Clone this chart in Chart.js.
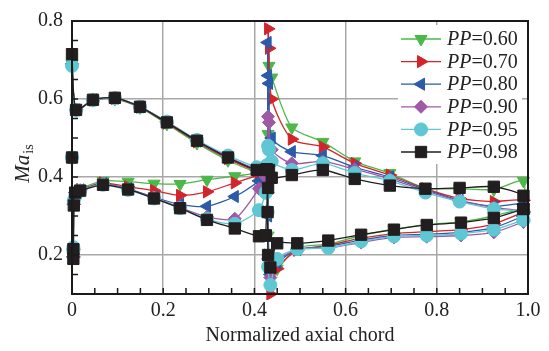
<!DOCTYPE html>
<html>
<head>
<meta charset="utf-8">
<script src="https://cdn.jsdelivr.net/npm/chart.js@4.4.1/dist/chart.umd.min.js"></script>
<style>
  html, body { margin: 0; padding: 0; background: #fff; }
</style>
</head>
<body>
<canvas id="mach-chart" width="549" height="351"></canvas>
<script>
// series names (pressure ratio PP)
const ppLabels = ['0.60', '0.70', '0.80', '0.90', '0.95', '0.98'];

// axis ticks
const xTickValues = [0, 0.2, 0.4, 0.6, 0.8, 1.0];
const xTickLabels = ['0', '0.2', '0.4', '0.6', '0.8', '1.0'];
const yTickValues = [0.2, 0.4, 0.6, 0.8];
const yTickLabels = ['0.2', '0.4', '0.6', '0.8'];

// front blade, pressure side: trailing edge -> leading edge
const frontPsX = [0.425, 0.41, 0.357, 0.296, 0.237, 0.18, 0.123, 0.068, 0.018, 0.007, 0.004, 0.003, 0.003];
const frontPsY = [
  [0.41, 0.41, 0.402, 0.393, 0.382, 0.383, 0.388, 0.39, 0.37, 0.362, 0.33, 0.215, 0.195],
  [0.41, 0.405, 0.385, 0.362, 0.353, 0.365, 0.375, 0.385, 0.368, 0.36, 0.33, 0.215, 0.195],
  [0.41, 0.39, 0.35, 0.325, 0.33, 0.348, 0.37, 0.383, 0.367, 0.36, 0.33, 0.215, 0.195],
  [0.40, 0.37, 0.293, 0.298, 0.322, 0.347, 0.368, 0.382, 0.366, 0.36, 0.33, 0.215, 0.195],
  [0.36, 0.315, 0.28, 0.292, 0.32, 0.345, 0.367, 0.38, 0.365, 0.35, 0.34, 0.22, 0.21],
  [0.25, 0.248, 0.268, 0.29, 0.32, 0.345, 0.368, 0.38, 0.365, 0.36, 0.327, 0.215, 0.19]
];

// front blade, suction side: leading edge -> trailing edge
const frontSsX = [0, 0, 0.009, 0.046, 0.094, 0.149, 0.208, 0.274, 0.342, 0.405, 0.427];
const frontSsY = [
  [0.45, 0.69, 0.571, 0.597, 0.6, 0.578, 0.536, 0.487, 0.443, 0.412, 0.41],
  [0.45, 0.69, 0.572, 0.597, 0.601, 0.579, 0.538, 0.49, 0.447, 0.415, 0.412],
  [0.45, 0.69, 0.572, 0.598, 0.602, 0.58, 0.541, 0.492, 0.45, 0.418, 0.415],
  [0.45, 0.69, 0.572, 0.598, 0.603, 0.58, 0.542, 0.494, 0.452, 0.42, 0.42],
  [0.45, 0.685, 0.572, 0.597, 0.602, 0.58, 0.542, 0.495, 0.455, 0.425, 0.43],
  [0.45, 0.715, 0.572, 0.598, 0.603, 0.58, 0.54, 0.493, 0.45, 0.418, 0.42]
];

// rear blade, pressure side: trailing edge -> leading edge
const rearPsX = [0.99, 0.925, 0.853, 0.778, 0.706, 0.634, 0.562, 0.494, 0.45];
const rearPsY = [
  [0.32, 0.30, 0.285, 0.278, 0.266, 0.25, 0.228, 0.218, 0.165],
  [0.31, 0.28, 0.265, 0.26, 0.255, 0.243, 0.225, 0.212, 0.165],
  [0.30, 0.27, 0.258, 0.253, 0.25, 0.238, 0.222, 0.214, 0.18],
  [0.285, 0.258, 0.25, 0.247, 0.245, 0.232, 0.218, 0.214, 0.185],
  [0.29, 0.265, 0.255, 0.25, 0.248, 0.235, 0.218, 0.215, 0.19],
  [0.318, 0.295, 0.283, 0.277, 0.265, 0.252, 0.237, 0.23, 0.23]
];

// rear blade, leading edge region (shock)
const rearLeX = [0.435, 0.43, 0.429, 0.43, 0.432, 0.438];
const rearLeY = [
  [0.16, 0.25, 0.40, 0.51, 0.685, 0.655],
  [0.10, 0.20, 0.40, 0.78, 0.73, 0.60],
  [0.15, 0.30, 0.745, 0.66, 0.64, 0.50],
  [0.142, 0.19, 0.36, 0.555, 0.54, 0.47],
  [0.123, 0.17, 0.31, 0.48, 0.47, 0.44],
  [0.168, 0.20, 0.31, 0.372, 0.418, 0.398]
];

// rear blade, suction side: leading edge -> trailing edge
const rearSsX = [0.482, 0.55, 0.62, 0.697, 0.775, 0.85, 0.925, 0.99];
const rearSsY = [
  [0.527, 0.49, 0.44, 0.41, 0.372, 0.37, 0.368, 0.39],
  [0.497, 0.477, 0.435, 0.405, 0.37, 0.345, 0.337, 0.34],
  [0.465, 0.455, 0.425, 0.40, 0.368, 0.34, 0.325, 0.33],
  [0.435, 0.44, 0.42, 0.395, 0.365, 0.338, 0.322, 0.31],
  [0.418, 0.435, 0.41, 0.39, 0.36, 0.337, 0.318, 0.31],
  [0.405, 0.418, 0.395, 0.378, 0.37, 0.372, 0.375, 0.352]
];

// styles
const colors = ['#4cb848', '#d3242b', '#2b5aa8', '#9f59a6', '#5fc6d3', '#221e1f'];
const markers = ['triangle', 'triangle', 'triangle', 'rectRot', 'circle', 'rect'];
const rotations = [180, 90, -90, 0, 0, 0];
const radii = [7, 7, 7, 6.5, 6.5, 8];
const serif = 'Liberation Serif, Times New Roman, serif';

const pts = (xs, ys) => xs.map((x, i) => ({ x: x, y: ys[i] }));
const closeLoop = (arr) => arr.concat([arr[0]]);

function makeDataset(i, data, label) {
  return {
    label: label,
    data: data,
    showLine: true,
    borderColor: colors[i],
    backgroundColor: colors[i],
    borderWidth: 1.3,
    pointStyle: markers[i],
    pointRotation: rotations[i],
    pointRadius: radii[i],
    pointBorderWidth: 1,
    pointBorderColor: colors[i],
    pointBackgroundColor: colors[i],
    tension: 0.25,
    order: 5 - i,
    clip: { left: 12, right: 12, top: 2, bottom: 6 }
  };
}

const datasets = [];
ppLabels.forEach((pp, i) => {
  const front = closeLoop(pts(frontPsX, frontPsY[i]).concat(pts(frontSsX, frontSsY[i])));
  datasets.push(makeDataset(i, front, 'PP=' + pp));
});
ppLabels.forEach((pp, i) => {
  const rear = closeLoop(pts(rearPsX, rearPsY[i]).concat(pts(rearLeX, rearLeY[i]), pts(rearSsX, rearSsY[i])));
  datasets.push(makeDataset(i, rear, ''));
});

// frame, inward minor ticks, y title and the legend inside the plot
const decorations = {
  id: 'decorations',
  afterDatasetsDraw(chart) {
    const { ctx, chartArea: a, scales: { x, y } } = chart;
    ctx.save();

    // minor ticks every 0.05
    ctx.strokeStyle = '#1a1a1a';
    ctx.lineWidth = 1.5;
    ctx.beginPath();
    for (let k = 0; k <= 20; k++) {
      const px = x.getPixelForValue(k * 0.05);
      ctx.moveTo(px, a.bottom);
      ctx.lineTo(px, a.bottom - 6);
    }
    for (let k = 2; k <= 16; k++) {
      const py = y.getPixelForValue(k * 0.05);
      ctx.moveTo(a.left, py);
      ctx.lineTo(a.left + 6, py);
    }
    ctx.stroke();

    // plot frame
    ctx.lineWidth = 2;
    ctx.strokeRect(a.left, a.top, a.right - a.left, a.bottom - a.top);

    // legend
    const boxL = a.right - 130, boxT = a.top + 4;
    ctx.fillStyle = '#fff';
    ctx.fillRect(boxL, boxT, 124, 139);
    for (let i = 0; i < ppLabels.length; i++) {
      const cy = boxT + 14 + i * 22.6;
      ctx.strokeStyle = colors[i];
      ctx.lineWidth = 1.3;
      ctx.beginPath();
      ctx.moveTo(boxL + 3, cy);
      ctx.lineTo(boxL + 43, cy);
      ctx.stroke();
      ctx.fillStyle = colors[i];
      ctx.strokeStyle = colors[i];
      ctx.lineWidth = 1;
      Chart.helpers.drawPoint(ctx, { pointStyle: markers[i], rotation: rotations[i], radius: radii[i], borderWidth: 1 }, boxL + 23, cy);

      ctx.fillStyle = '#222';
      ctx.textBaseline = 'middle';
      ctx.textAlign = 'left';
      ctx.font = 'italic 20px ' + serif;
      ctx.fillText('PP', boxL + 49, cy + 1);
      const w = ctx.measureText('PP').width;
      ctx.font = '20px ' + serif;
      ctx.fillText('=' + ppLabels[i], boxL + 49 + w, cy + 1);
    }

    // y axis title: Ma with subscript "is"
    ctx.translate(22, 164);
    ctx.rotate(-Math.PI / 2);
    ctx.fillStyle = '#222';
    ctx.textBaseline = 'alphabetic';
    ctx.font = 'italic 21px ' + serif;
    const wMa = ctx.measureText('Ma').width;
    ctx.font = '14px ' + serif;
    const wIs = ctx.measureText('is').width;
    const start = -(wMa + wIs) / 2;
    ctx.font = 'italic 21px ' + serif;
    ctx.fillText('Ma', start, 7);
    ctx.font = '14px ' + serif;
    ctx.fillText('is', start + wMa + 1, 11);

    ctx.restore();
  }
};

const ctx = document.getElementById('mach-chart').getContext('2d');
const chart = new Chart(ctx, {
  type: 'scatter',
  data: { datasets: datasets },
  options: {
    responsive: false,
    animation: false,
    devicePixelRatio: 1,
    layout: { padding: { top: 14, right: 21, left: 0, bottom: 0 } },
    plugins: {
      legend: { display: false },
      tooltip: { enabled: false }
    },
    scales: {
      x: {
        type: 'linear',
        min: 0,
        max: 1,
        afterBuildTicks: (s) => { s.ticks = xTickValues.map(v => ({ value: v })); },
        afterFit: (s) => { s.height = 57; },
        ticks: {
          callback: (v, i) => xTickLabels[i],
          font: { family: serif, size: 20 },
          color: '#222',
          padding: 5,
          maxRotation: 0,
          autoSkip: false
        },
        grid: { color: '#a8a8a8', lineWidth: 1.5, drawTicks: false },
        border: { display: false },
        title: {
          display: true,
          text: 'Normalized axial chord',
          font: { family: serif, size: 20 },
          color: '#222',
          padding: { top: 0, bottom: 3 }
        }
      },
      y: {
        type: 'linear',
        min: 0.1,
        max: 0.8,
        afterBuildTicks: (s) => { s.ticks = yTickValues.map(v => ({ value: v })); },
        afterFit: (s) => { s.width = 72; },
        ticks: {
          callback: (v, i) => yTickLabels[i],
          font: { family: serif, size: 20 },
          color: '#222',
          padding: 9
        },
        grid: { color: '#a8a8a8', lineWidth: 1.5, drawTicks: false },
        border: { display: false }
      }
    }
  },
  plugins: [decorations]
});
</script>
</body>
</html>
